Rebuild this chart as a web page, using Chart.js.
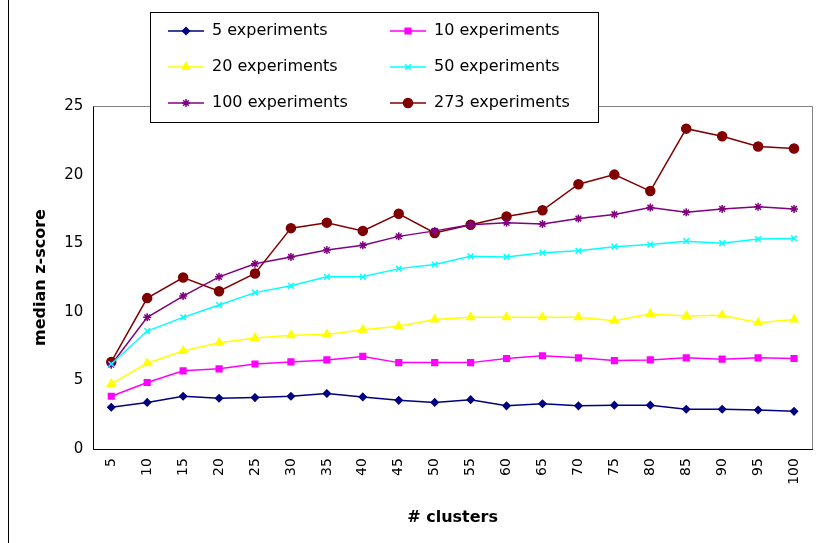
<!DOCTYPE html>
<html>
<head>
<meta charset="utf-8">
<script src="https://cdn.jsdelivr.net/npm/chart.js@4/dist/chart.umd.min.js"></script>
<style>
  body { margin: 0; background: #fff; }
  #wrap { position: relative; width: 818px; height: 543px; }
  #frame { position: absolute; left: 8px; top: -1px; width: 820px; height: 560px; border: 1px solid #000; box-sizing: border-box; }
</style>
</head>
<body>
<div id="wrap">
  <div id="frame"></div>
  <canvas id="chart" width="818" height="543"></canvas>
</div>
<script>
// Chart data
const clusters = ['5','10','15','20','25','30','35','40','45','50','55','60','65','70','75','80','85','90','95','100'];
const exp5   = [3.05,3.4,3.85,3.7,3.75,3.85,4.05,3.8,3.55,3.4,3.6,3.15,3.3,3.15,3.2,3.2,2.9,2.9,2.85,2.75];
const exp10  = [3.85,4.85,5.7,5.85,6.2,6.35,6.5,6.75,6.3,6.3,6.3,6.6,6.8,6.65,6.45,6.5,6.65,6.55,6.65,6.6];
const exp20  = [4.75,6.25,7.15,7.75,8.1,8.3,8.35,8.7,8.95,9.45,9.6,9.6,9.6,9.6,9.35,9.85,9.7,9.75,9.2,9.45];
const exp50  = [6.2,8.6,9.6,10.5,11.4,11.9,12.55,12.55,13.15,13.45,14.05,14.0,14.3,14.45,14.75,14.9,15.15,15.0,15.3,15.35];
const exp100 = [6.15,9.6,11.15,12.55,13.5,14.0,14.5,14.85,15.5,15.9,16.35,16.5,16.4,16.8,17.1,17.6,17.25,17.5,17.65,17.5];
const exp273 = [6.35,11.0,12.5,11.5,12.8,16.1,16.5,15.9,17.15,15.75,16.35,16.95,17.4,19.3,20.0,18.8,23.35,22.8,22.05,21.9];
const yTicks = [0,5,10,15,20,25];

const font = 'Verdana, "DejaVu Sans", sans-serif';

const mkSet = (label, data, color, style, radius) => ({
  label, data,
  borderColor: color, backgroundColor: color,
  pointStyle: style, pointRadius: radius, pointBorderColor: color,
  pointBorderWidth: 1.5, borderWidth: 1.5, tension: 0
});

// Legend drawn inside canvas, overlapping the plot like the original
const legendBox = {
  id: 'legendBox',
  afterDraw(chart) {
    const ctx = chart.ctx;
    const x0 = 150, y0 = 12, w = 448, h = 110;
    ctx.save();
    ctx.fillStyle = '#fff';
    ctx.fillRect(x0, y0, w, h);
    ctx.strokeStyle = '#000';
    ctx.lineWidth = 1;
    ctx.strokeRect(x0 + 0.5, y0 + 0.5, w, h);
    ctx.font = '16px ' + font;
    ctx.textBaseline = 'middle';
    chart.data.datasets.forEach((ds, i) => {
      const col = i % 2, row = Math.floor(i / 2);
      const lx = x0 + 18 + col * 222, ly = y0 + 19 + row * 36;
      ctx.strokeStyle = ds.borderColor;
      ctx.lineWidth = 1.5;
      ctx.beginPath(); ctx.moveTo(lx, ly); ctx.lineTo(lx + 36, ly); ctx.stroke();
      ctx.fillStyle = ds.borderColor;
      Chart.helpers.drawPoint(ctx, {
        pointStyle: ds.pointStyle, radius: ds.pointRadius, borderWidth: 1.5
      }, lx + 18, ly);
      ctx.fillStyle = '#000';
      ctx.fillText(ds.label, lx + 44, ly);
    });
    ctx.restore();
  }
};

new Chart(document.getElementById('chart'), {
  type: 'line',
  data: {
    labels: clusters,
    datasets: [
      mkSet('5 experiments', exp5, '#000080', 'rectRot', 3.5),
      mkSet('10 experiments', exp10, '#ff00ff', 'rect', 4),
      mkSet('20 experiments', exp20, '#ffff00', 'triangle', 4.5),
      mkSet('50 experiments', exp50, '#00ffff', 'crossRot', 4),
      mkSet('100 experiments', exp100, '#800080', 'star', 4),
      mkSet('273 experiments', exp273, '#800000', 'circle', 4.5)
    ]
  },
  options: {
    responsive: false,
    animation: false,
    layout: { padding: { top: 106, right: 6, left: 27, bottom: 10 } },
    plugins: { legend: { display: false }, tooltip: { enabled: false } },
    scales: {
      x: {
        offset: true,
        grid: { display: false, drawTicks: true, tickLength: 6, offset: true },
        border: { color: '#000' },
        ticks: { color: '#000', font: { family: font, size: 14 }, maxRotation: 90, minRotation: 90 },
        title: { display: true, text: '# clusters', color: '#000', font: { family: font, size: 16, weight: 'bold' }, padding: { top: 20, bottom: 6 } }
      },
      y: {
        min: 0, max: 25,
        afterBuildTicks: axis => { axis.ticks = yTicks.map(v => ({ value: v })); },
        grid: { display: false, tickLength: 6 },
        border: { color: '#000' },
        ticks: { color: '#000', font: { family: font, size: 15 }, padding: 4 },
        title: { display: true, text: 'median z-score', color: '#000', font: { family: font, size: 16, weight: 'bold' }, padding: { bottom: 10 } }
      }
    }
  },
  plugins: [legendBox, {
    id: 'plotBorder',
    beforeDatasetsDraw(chart) {
      const a = chart.chartArea, ctx = chart.ctx;
      ctx.save();
      ctx.strokeStyle = '#808080';
      ctx.lineWidth = 1;
      ctx.beginPath();
      ctx.moveTo(a.left, a.top + 0.5); ctx.lineTo(a.right + 0.5, a.top + 0.5); ctx.lineTo(a.right + 0.5, a.bottom);
      ctx.stroke();
      ctx.restore();
    }
  }]
});
</script>
</body>
</html>
